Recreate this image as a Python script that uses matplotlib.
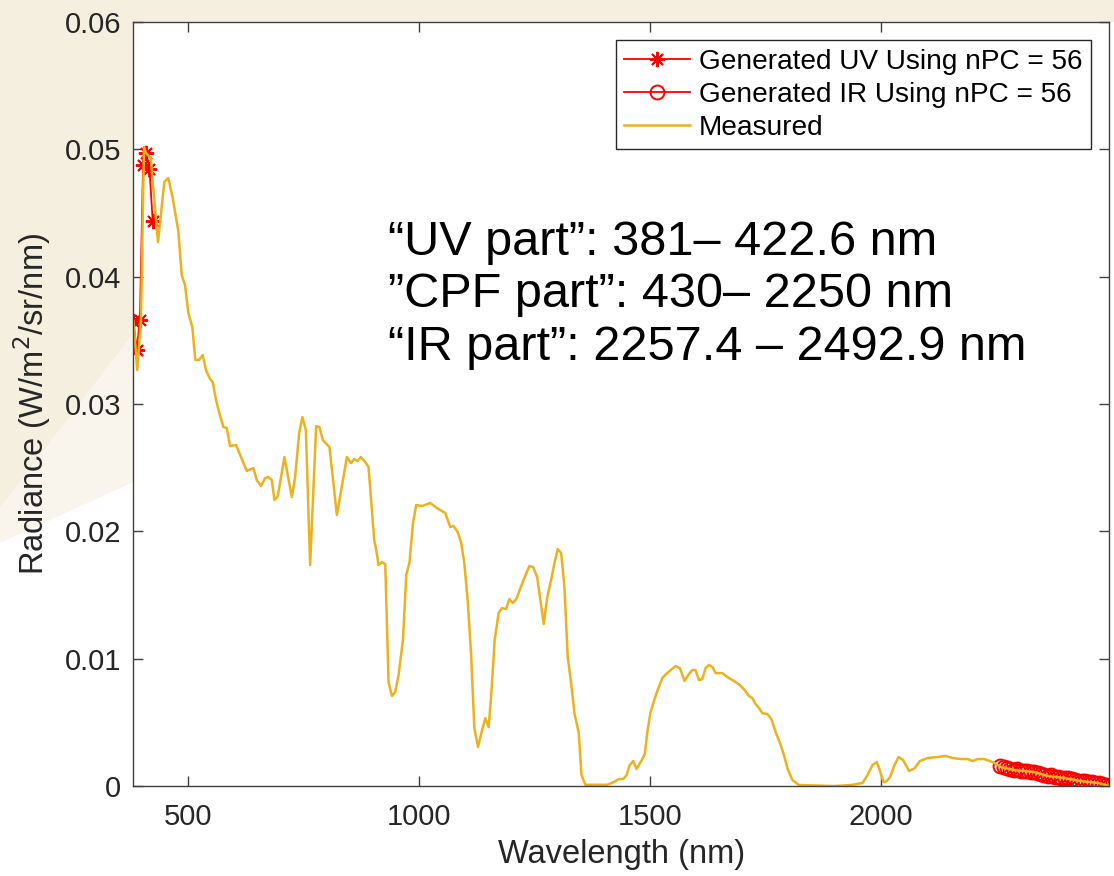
import matplotlib

matplotlib.use("Agg")

import matplotlib.pyplot as plt  # noqa: E402
from matplotlib.patches import Polygon  # noqa: E402

# measured spectrum (nm, W/m2/sr/nm)
wl_measured = [
    381.0, 389.2, 397.3, 403.8, 408.1, 418.3, 434.1, 447.8, 456.4, 466.0,
    478.1, 485.5, 492.6, 499.8, 508.4, 514.9, 523.0, 531.0, 538.1, 546.8,
    552.6, 559.8, 566.9, 575.6, 583.0, 590.1, 603.1, 626.3, 640.6, 648.0,
    657.3, 666.0, 673.2, 680.5, 686.2, 693.5, 707.8, 723.9, 731.0, 739.7,
    746.8, 754.2, 763.5, 776.5, 783.7, 791.0, 805.4, 821.4, 843.1, 851.7,
    858.9, 866.0, 873.4, 882.7, 889.9, 902.2, 906.6, 911.6, 918.9, 926.1,
    933.2, 940.6, 947.7, 954.9, 964.4, 971.6, 978.7, 986.1, 993.3, 1005.6,
    1023.6, 1038.1, 1048.9, 1056.1, 1066.9, 1074.1, 1082.8, 1090.2, 1097.3, 1104.5,
    1111.8, 1119.0, 1127.0, 1134.1, 1142.8, 1150.0, 1155.8, 1163.0, 1171.6, 1179.0,
    1187.7, 1194.8, 1202.0, 1210.0, 1217.1, 1228.0, 1238.2, 1246.2, 1254.9, 1262.0,
    1269.2, 1276.5, 1285.2, 1292.4, 1299.5, 1306.9, 1314.0, 1321.2, 1328.5, 1335.7,
    1345.0, 1350.9, 1359.5, 1406.6, 1420.9, 1431.7, 1441.3, 1448.4, 1455.5, 1462.9,
    1470.1, 1480.2, 1488.0, 1493.2, 1500.4, 1513.4, 1525.7, 1536.6, 1554.6, 1563.9,
    1574.1, 1583.4, 1590.8, 1597.9, 1605.1, 1612.4, 1619.6, 1626.8, 1634.1, 1641.3,
    1655.8, 1666.6, 1681.0, 1694.0, 1704.1, 1713.4, 1720.8, 1728.0, 1735.1, 1742.5,
    1753.3, 1762.0, 1771.3, 1780.6, 1789.3, 1796.6, 1807.5, 1821.8, 1897.7, 1934.0,
    1959.3, 1970.2, 1981.0, 1990.2, 1995.2, 2004.7, 2011.9, 2019.0, 2027.7, 2037.2,
    2047.2, 2060.2, 2072.6, 2083.4, 2100.1, 2121.8, 2139.8, 2154.3, 2172.3, 2186.8,
    2197.7, 2208.4, 2222.8, 2241.0, 2259.0, 2287.8, 2331.1, 2360.2, 2396.2, 2432.3,
    2468.5, 2492.9,
]
rad_measured = [
    0.03652, 0.03267, 0.03660, 0.05018, 0.04971, 0.04932, 0.04272, 0.04744, 0.04775, 0.04618,
    0.04359, 0.04013, 0.03935, 0.03715, 0.03605, 0.03346, 0.03346, 0.03385, 0.03267, 0.03196,
    0.03173, 0.03032, 0.02929, 0.02819, 0.02812, 0.02670, 0.02678, 0.02474, 0.02497, 0.02403,
    0.02356, 0.02419, 0.02427, 0.02403, 0.02246, 0.02278, 0.02584, 0.02270, 0.02427, 0.02772,
    0.02898, 0.02796, 0.01736, 0.02827, 0.02819, 0.02717, 0.02662, 0.02128, 0.02584, 0.02537,
    0.02568, 0.02552, 0.02584, 0.02545, 0.02505, 0.01932, 0.01853, 0.01736, 0.01759, 0.01743,
    0.00817, 0.00707, 0.00738, 0.00872, 0.01147, 0.01657, 0.01759, 0.02066, 0.02207, 0.02199,
    0.02223, 0.02183, 0.02160, 0.02144, 0.02034, 0.02042, 0.01995, 0.01916, 0.01751, 0.01461,
    0.01045, 0.00456, 0.00306, 0.00416, 0.00534, 0.00463, 0.00730, 0.01147, 0.01359, 0.01398,
    0.01390, 0.01469, 0.01437, 0.01469, 0.01539, 0.01641, 0.01728, 0.01720, 0.01641, 0.01461,
    0.01272, 0.01476, 0.01618, 0.01751, 0.01861, 0.01830, 0.01563, 0.01013, 0.00809, 0.00573,
    0.00416, 0.00086, 0.00010, 0.00010, 0.00031, 0.00055, 0.00055, 0.00086, 0.00165, 0.00196,
    0.00134, 0.00196, 0.00251, 0.00416, 0.00581, 0.00730, 0.00848, 0.00887, 0.00942, 0.00927,
    0.00825, 0.00880, 0.00911, 0.00911, 0.00832, 0.00840, 0.00927, 0.00950, 0.00935, 0.00887,
    0.00887, 0.00856, 0.00825, 0.00793, 0.00754, 0.00707, 0.00691, 0.00644, 0.00613, 0.00573,
    0.00565, 0.00526, 0.00424, 0.00338, 0.00243, 0.00141, 0.00047, 0.00008, 0.00000, 0.00008,
    0.00024, 0.00086, 0.00165, 0.00188, 0.00141, 0.00031, 0.00039, 0.00071, 0.00157, 0.00228,
    0.00204, 0.00118, 0.00141, 0.00196, 0.00220, 0.00228, 0.00236, 0.00220, 0.00212, 0.00212,
    0.00196, 0.00212, 0.00212, 0.00188, 0.00149, 0.00126, 0.00110, 0.00079, 0.00063, 0.00039,
    0.00024, 0.00002,
]

# generated UV part (381 - 422.6 nm)
wl_uv = [381.0, 387.9, 394.9, 401.8, 408.7, 415.7, 422.6]
rad_uv = [0.03652, 0.03424, 0.03660, 0.04877, 0.04971, 0.04846, 0.04438]

# generated IR part (2257.4 - 2492.9 nm)
wl_ir = [
    2257.4, 2264.8, 2272.1, 2279.5, 2286.8, 2294.2, 2301.6, 2308.9, 2316.3, 2323.6,
    2331.0, 2338.4, 2345.7, 2353.1, 2360.4, 2367.8, 2375.2, 2382.5, 2389.9, 2397.2,
    2404.6, 2412.0, 2419.3, 2426.7, 2434.0, 2441.4, 2448.8, 2456.1, 2463.5, 2470.8,
    2478.2, 2485.5, 2492.9,
]
rad_ir = [
    0.00158, 0.00150, 0.00141, 0.00136, 0.00127, 0.00130, 0.00122, 0.00118, 0.00121, 0.00113,
    0.00108, 0.00102, 0.00094, 0.00088, 0.00080, 0.00084, 0.00074, 0.00070, 0.00066, 0.00062,
    0.00066, 0.00055, 0.00047, 0.00043, 0.00039, 0.00041, 0.00033, 0.00029, 0.00026, 0.00022,
    0.00016, 0.00010, 0.00003,
]

x_ticks = [500, 1000, 1500, 2000]
y_ticks = [0, 0.01, 0.02, 0.03, 0.04, 0.05, 0.06]
y_tick_labels = ["0", "0.01", "0.02", "0.03", "0.04", "0.05", "0.06"]

plt.rcParams["font.family"] = ["Liberation Sans", "DejaVu Sans"]

fig = plt.figure(figsize=(11.14, 8.76), dpi=100)
fig.patch.set_facecolor("white")

# slide background showing through on the left / top
fig.patches.append(
    Polygon(
        [(0, 1), (1, 1), (1, 0.975), (0.12, 0.975), (0.12, 0.62), (0, 0.42)],
        closed=True, transform=fig.transFigure, facecolor="#f5efdf",
        edgecolor="none", zorder=-10,
    )
)
fig.patches.append(
    Polygon(
        [(0, 0.42), (0.12, 0.62), (0.12, 0.45), (0, 0.38)],
        closed=True, transform=fig.transFigure, facecolor="#faf5ec",
        edgecolor="none", zorder=-10,
    )
)

ax = fig.add_axes([0.1198, 0.1027, 0.8757, 0.8721])
ax.set_facecolor("white")

red = "#ff0000"
orange = "#edb120"

ax.plot(wl_uv, rad_uv, color=red, lw=1.3, marker=(8, 2, 0), ms=11, mew=1.4,
        label="Generated UV Using nPC = 56")
ax.plot(wl_ir, rad_ir, color=red, lw=1.3, marker="o", ms=10, mew=1.4,
        mfc="none", label="Generated IR Using nPC = 56")
ax.plot(wl_measured, rad_measured, color=orange, lw=1.8, label="Measured")

ax.set_xlim(381, 2492.9)
ax.set_ylim(0, 0.06)
ax.set_xticks(x_ticks)
ax.set_xticklabels([str(t) for t in x_ticks])
ax.set_yticks(y_ticks)
ax.set_yticklabels(y_tick_labels)

ax.tick_params(direction="in", length=7, width=1, colors="#404040",
               labelcolor="#262626", labelsize=21, top=True, right=True)
ax.tick_params(axis="x", pad=12)
ax.tick_params(axis="y", pad=9)
for sp in ax.spines.values():
    sp.set_color("#404040")
    sp.set_linewidth(1.0)

ax.set_xlabel("Wavelength (nm)", fontsize=23.5, color="#262626", labelpad=6)
ax.set_ylabel("Radiance (W/m$^2$/sr/nm)", fontsize=23.5, color="#262626",
              labelpad=8)

ax.text(0.261, 0.643,
        "\u201cUV part\u201d: 381\u2013 422.6 nm\n"
        "\u201dCPF part\u201d: 430\u2013 2250 nm\n"
        "\u201cIR part\u201d: 2257.4 \u2013 2492.9 nm",
        transform=ax.transAxes, fontsize=35, va="center", ha="left",
        color="black", linespacing=1.22)

leg = ax.legend(loc="upper right", fontsize=20.2, frameon=True, fancybox=False,
                framealpha=1, edgecolor="#262626", handlelength=2.35,
                handletextpad=0.3, labelspacing=0.25, borderaxespad=0.65,
                borderpad=0.3)
leg.get_frame().set_linewidth(1.0)

fig.savefig("out.png", dpi=100, facecolor=fig.get_facecolor())
